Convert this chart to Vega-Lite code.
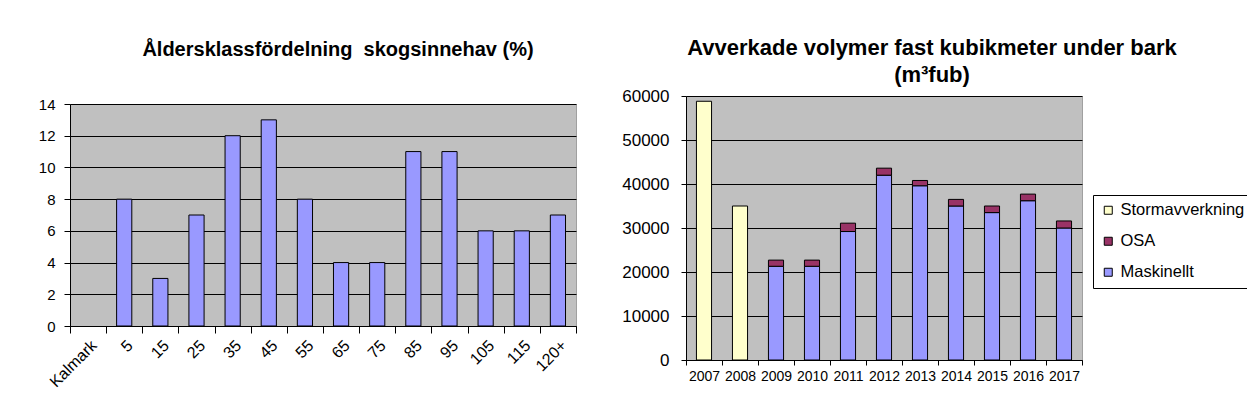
{
  "$schema": "https://vega.github.io/schema/vega-lite/v6.json",
  "padding": {"left": 37, "top": 36, "right": 0, "bottom": 0},
  "background": "white",
  "spacing": 44,
  "resolve": {"legend": {"color": "independent"}},
  "config": {
    "font": "Liberation Sans",
    "view": {"stroke": null},
    "axis": {"domainColor": "#000", "tickColor": "#000", "labelColor": "#000", "gridColor": "#000", "gridOpacity": 1, "domainWidth": 1, "tickWidth": 1, "gridWidth": 1, "labelFont": "Liberation Sans"},
    "title": {"color": "#000", "fontWeight": "bold", "font": "Liberation Sans"}
  },
  "datasets": {
    "alder": [
      {"klass": "Kalmark", "andel": null},
      {"klass": "5", "andel": 8},
      {"klass": "15", "andel": 3},
      {"klass": "25", "andel": 7},
      {"klass": "35", "andel": 12},
      {"klass": "45", "andel": 13},
      {"klass": "55", "andel": 8},
      {"klass": "65", "andel": 4},
      {"klass": "75", "andel": 4},
      {"klass": "85", "andel": 11},
      {"klass": "95", "andel": 11},
      {"klass": "105", "andel": 6},
      {"klass": "115", "andel": 6},
      {"klass": "120+", "andel": 7}
    ],
    "avverk": [
      {"ar": "2007", "serie": "Stormavverkning", "volym": 58800},
      {"ar": "2008", "serie": "Stormavverkning", "volym": 35000},
      {"ar": "2009", "serie": "Maskinellt", "volym": 21300},
      {"ar": "2009", "serie": "OSA", "volym": 1400},
      {"ar": "2010", "serie": "Maskinellt", "volym": 21300},
      {"ar": "2010", "serie": "OSA", "volym": 1400},
      {"ar": "2011", "serie": "Maskinellt", "volym": 29200},
      {"ar": "2011", "serie": "OSA", "volym": 1900},
      {"ar": "2012", "serie": "Maskinellt", "volym": 42000},
      {"ar": "2012", "serie": "OSA", "volym": 1600},
      {"ar": "2013", "serie": "Maskinellt", "volym": 39600},
      {"ar": "2013", "serie": "OSA", "volym": 1200},
      {"ar": "2014", "serie": "Maskinellt", "volym": 35000},
      {"ar": "2014", "serie": "OSA", "volym": 1500},
      {"ar": "2015", "serie": "Maskinellt", "volym": 33500},
      {"ar": "2015", "serie": "OSA", "volym": 1500},
      {"ar": "2016", "serie": "Maskinellt", "volym": 36200},
      {"ar": "2016", "serie": "OSA", "volym": 1500},
      {"ar": "2017", "serie": "Maskinellt", "volym": 30000},
      {"ar": "2017", "serie": "OSA", "volym": 1600}
    ]
  },
  "hconcat": [
    {
      "bounds": "flush",
      "spacing": 7,
      "vconcat": [
        {
          "data": {"values": []},
          "width": 506,
          "height": 1,
          "view": {"stroke": null, "fill": null},
          "mark": {"type": "rule"},
          "encoding": {}
        },
        {
          "data": {"name": "alder"},
          "width": 506,
          "height": 222,
          "view": {"fill": "#c0c0c0", "stroke": "#a0a0a0"},
          "title": {"text": "Åldersklassfördelning\u00a0 skogsinnehav (%)", "fontSize": 20, "anchor": "middle", "dx": 15, "offset": 17, "baseline": "bottom"},
          "mark": {"type": "bar", "width": {"band": 0.42}, "fill": "#9999ff", "stroke": "#000", "strokeWidth": 1},
          "encoding": {
            "x": {
              "field": "klass", "type": "nominal",
              "scale": {"domain": ["Kalmark", "5", "15", "25", "35", "45", "55", "65", "75", "85", "95", "105", "115", "120+"], "paddingInner": 0, "paddingOuter": 0},
              "axis": {"title": null, "labelAngle": -45, "labelFontSize": 16, "tickBand": "extent", "tickSize": 7, "labelPadding": 4, "grid": false}
            },
            "y": {
              "field": "andel", "type": "quantitative",
              "scale": {"domain": [0, 14], "nice": false},
              "axis": {"title": null, "values": [0, 2, 4, 6, 8, 10, 12, 14], "grid": true, "tickSize": 6, "labelPadding": 9, "labelFontSize": 15}
            }
          }
        }
      ]
    },
    {
      "data": {"name": "avverk"},
      "width": 396,
      "height": 264,
      "view": {"fill": "#c0c0c0", "stroke": "#a0a0a0"},
      "title": {"text": ["Avverkade volymer fast kubikmeter under bark", "(m³fub)"], "fontSize": 22, "lineHeight": 27, "anchor": "middle", "dx": 48, "offset": -22, "baseline": "bottom"},
      "mark": {"type": "bar", "width": {"band": 0.42}, "stroke": "#000", "strokeWidth": 1},
      "encoding": {
        "x": {
          "field": "ar", "type": "ordinal",
          "scale": {"paddingInner": 0, "paddingOuter": 0},
          "axis": {"title": null, "labelAngle": 0, "labelFontSize": 14, "tickBand": "extent", "tickSize": 5, "labelPadding": 4, "grid": false}
        },
        "y": {
          "field": "volym", "type": "quantitative", "stack": "zero",
          "scale": {"domain": [0, 60000], "nice": false},
          "axis": {"title": null, "values": [0, 10000, 20000, 30000, 40000, 50000, 60000], "format": "d", "grid": true, "tickSize": 5, "labelPadding": 12, "labelFontSize": 17}
        },
        "color": {
          "field": "serie", "type": "nominal",
          "scale": {"domain": ["Stormavverkning", "OSA", "Maskinellt"], "range": ["#ffffcc", "#993366", "#9999ff"]},
          "legend": {"title": null, "orient": "none", "legendX": 407, "legendY": 99, "direction": "vertical", "fillColor": "#ffffff", "strokeColor": "#000000", "padding": 7, "symbolType": "square", "symbolSize": 64, "symbolStrokeColor": "#000000", "symbolStrokeWidth": 1, "symbolOpacity": 1, "labelFontSize": 16.5, "labelColor": "#000000", "rowPadding": 14, "labelOffset": 4}
        },
        "order": {"field": "serie", "sort": "ascending"}
      }
    }
  ]
}
